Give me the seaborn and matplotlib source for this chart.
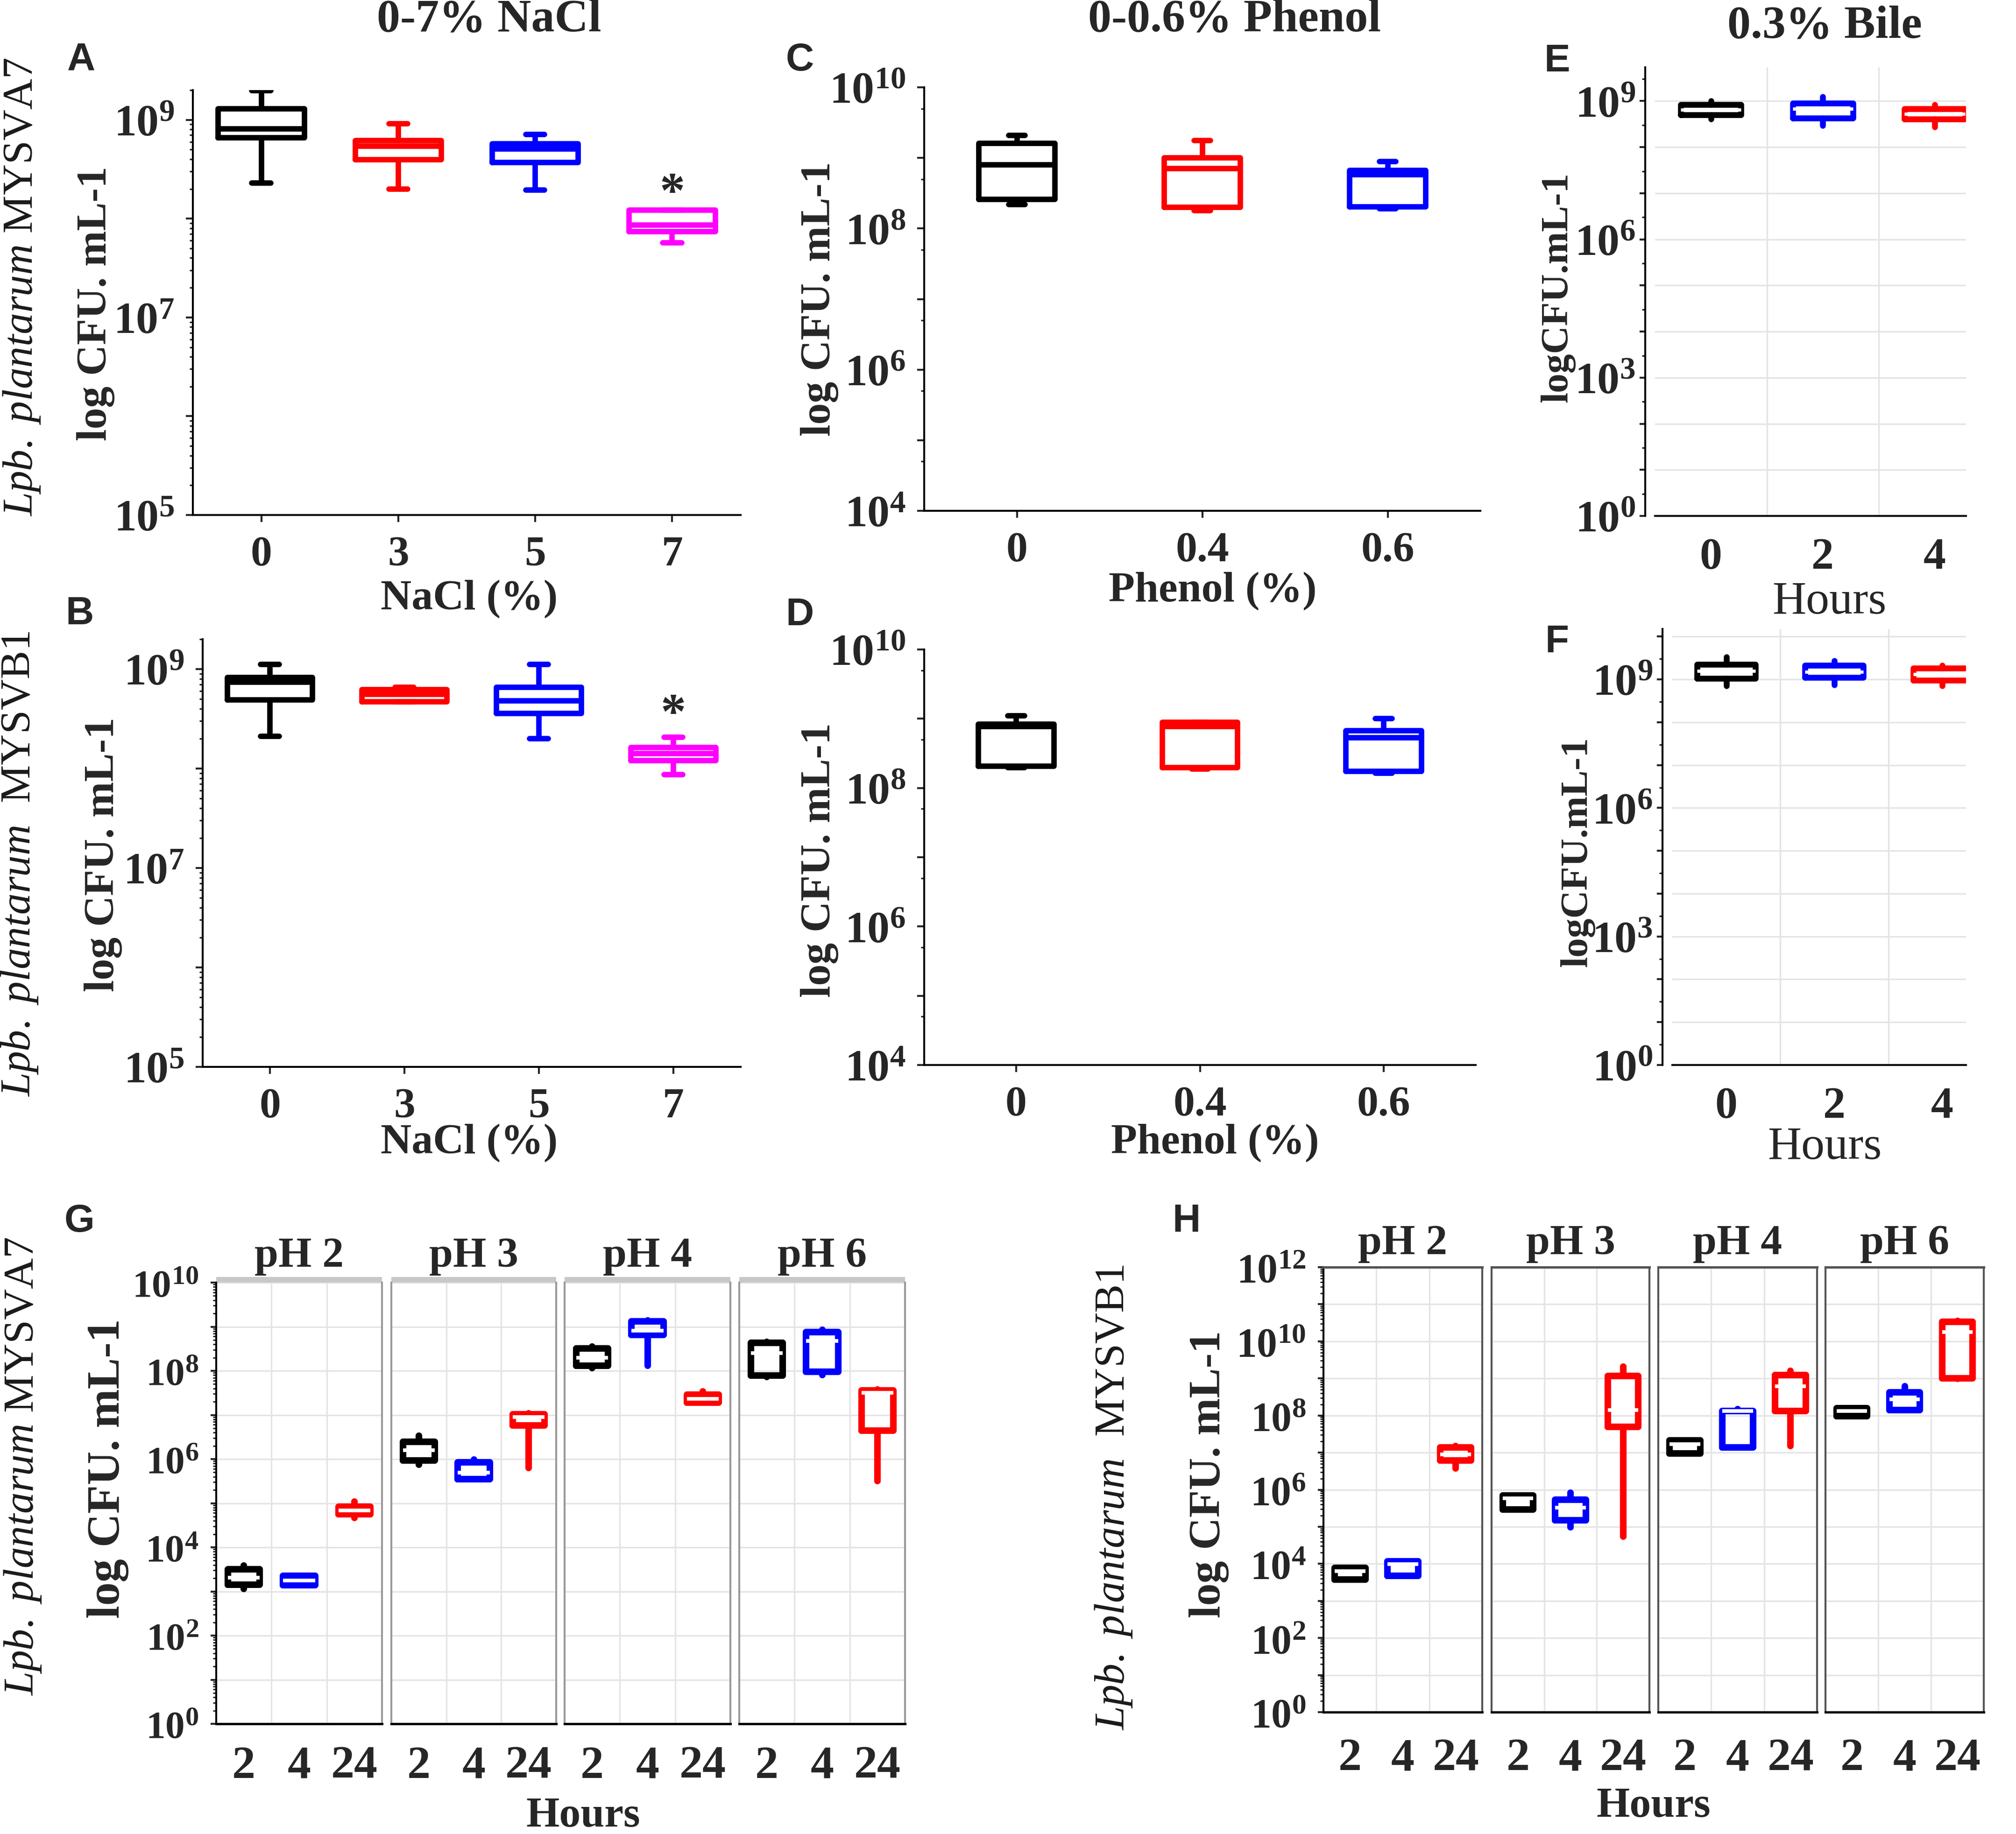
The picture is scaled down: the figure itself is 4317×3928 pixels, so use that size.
import matplotlib
matplotlib.use("Agg")
import matplotlib.pyplot as plt
from matplotlib.patches import Rectangle
from matplotlib.ticker import FixedLocator, FuncFormatter, NullFormatter
import numpy as np
import pandas as pd
import seaborn as sns

# box summaries: [min, Q1, median, Q3, max] in CFU/mL
nacl_levels = ["0", "3", "5", "7"]
nacl_colors = ["black", "red", "blue", "magenta"]
nacl_va7 = [
    [2.3e8, 6.6e8, 8.1e8, 1.3e9, 1.98e9],
    [2.0e8, 3.95e8, 5.4e8, 6.2e8, 9.1e8],
    [1.95e8, 3.7e8, 5.1e8, 5.75e8, 7.1e8],
    [5.7e7, 7.4e7, 8.65e7, 1.22e8, 1.22e8],
]
nacl_vb1 = [
    [2.1e8, 4.9e8, 7.4e8, 8.2e8, 1.12e9],
    [4.7e8, 4.7e8, 5.6e8, 6.2e8, 6.6e8],
    [2.0e8, 3.6e8, 4.8e8, 6.6e8, 1.12e9],
    [8.7e7, 1.2e8, 1.41e8, 1.63e8, 2.07e8],
]
nacl_star = [1.75e8, 3.4e8]  # height of the * over 7% NaCl (A, B)

phenol_levels = ["0", "0.4", "0.6"]
phenol_colors = ["black", "red", "blue"]
phenol_va7 = [
    [2.2e8, 2.57e8, 8.0e8, 1.61e9, 2.09e9],
    [1.78e8, 1.98e8, 7.05e8, 1.0e9, 1.76e9],
    [1.9e8, 2.03e8, 5.8e8, 6.6e8, 8.9e8],
]
phenol_vb1 = [
    [1.97e8, 2.07e8, 7.7e8, 8.4e8, 1.1e9],
    [1.88e8, 1.97e8, 7.7e8, 8.9e8, 8.9e8],
    [1.64e8, 1.75e8, 5.3e8, 6.7e8, 1.0e9],
]

bile_hours = ["0", "2", "4"]
bile_colors = ["black", "blue", "red"]
bile_va7 = [
    [4.05e8, 4.95e8, 6.4e8, 8.3e8, 1.0e9],
    [2.9e8, 4.3e8, 6.8e8, 9.0e8, 1.25e9],
    [2.7e8, 4.05e8, 5.3e8, 6.8e8, 8.3e8],
]
bile_vb1 = [
    [7.1e8, 1.06e9, 1.58e9, 2.22e9, 3.3e9],
    [7.4e8, 1.1e9, 1.49e9, 2.14e9, 2.7e9],
    [7.1e8, 9.4e8, 1.3e9, 1.82e9, 2.1e9],
]

ph_levels = ["pH 2", "pH 3", "pH 4", "pH 6"]
ph_hours = ["2", "4", "24"]
ph_colors = ["black", "blue", "red"]
ph2_va7 = [[1.15e3, 1.42e3, 2.05e3, 3.15e3, 3.9e3],
           [1.39e3, 1.39e3, 1.76e3, 2.28e3, 2.28e3],
           [4.6e4, 5.7e4, 6.8e4, 8.4e4, 1.09e5]]
ph3_va7 = [[7.5e5, 9.3e5, 1.58e6, 2.45e6, 3.39e6],
           [3.55e5, 3.55e5, 4.9e5, 8.4e5, 9.8e5],
           [6.3e5, 5.8e6, 8.9e6, 1.03e7, 1.1e7]]
ph4_va7 = [[1.17e8, 1.3e8, 2.0e8, 3.2e8, 3.58e8],
           [1.3e8, 6.5e8, 8.1e8, 1.33e9, 1.38e9],
           [1.89e7, 1.89e7, 2.34e7, 2.9e7, 3.44e7]]
ph6_va7 = [[7.2e7, 7.9e7, 2.5e8, 4.3e8, 4.5e8],
           [8.1e7, 9.5e7, 4.7e8, 7.6e8, 8.5e8],
           [3.2e5, 4.4e6, 3.2e7, 3.6e7, 3.76e7]]
ph2_vb1 = [[3.75e3, 3.75e3, 6.3e3, 7.7e3, 7.7e3],
           [4.8e3, 4.8e3, 9.9e3, 1.18e4, 1.18e4],
           [3.7e6, 6.2e6, 9.0e6, 1.39e7, 1.5e7]]
ph3_vb1 = [[2.9e5, 2.9e5, 5.9e5, 7.0e5, 7.0e5],
           [9.8e4, 1.5e5, 3.27e5, 5.4e5, 8.4e5],
           [5.5e4, 5.0e7, 1.42e8, 1.15e9, 2.07e9]]
ph4_vb1 = [[9.5e6, 9.5e6, 1.7e7, 2.1e7, 2.1e7],
           [1.39e7, 1.39e7, 1.32e8, 1.32e8, 1.5e8],
           [1.5e7, 1.32e8, 6.1e8, 1.24e9, 1.6e9]]
ph6_vb1 = [[9.5e7, 9.5e7, 1.32e8, 1.57e8, 1.57e8],
           [1.42e8, 1.42e8, 2.7e8, 4.2e8, 6.1e8],
           [9.8e8, 1.02e9, 1.77e10, 3.4e10, 3.6e10]]

W, H, DPI = 4317, 3929, 300

sns.set_theme(style="ticks")
plt.rcParams["font.family"] = ["Liberation Serif", "DejaVu Serif"]
plt.rcParams["mathtext.fontset"] = "custom"
plt.rcParams["mathtext.rm"] = "Liberation Serif"
plt.rcParams["mathtext.it"] = "Liberation Serif:italic"
plt.rcParams["mathtext.bf"] = "Liberation Serif:bold"

fig = plt.figure(figsize=(W / DPI, H / DPI), dpi=DPI, facecolor="white")


def px_axes(l, t, r, b):
    return fig.add_axes([l / W, 1 - b / H, (r - l) / W, (b - t) / H])


def ftext(x, y, s, **kw):
    fig.text(x / W, 1 - y / H, s, ha="center", va="center", **kw)


def pow_formatter(show):
    def fmt(v, pos):
        e = int(round(np.log10(v)))
        return r"$\mathbf{10^{%d}}$" % e if e in show else ""
    return FuncFormatter(fmt)


def draw_boxes(ax, groups, colors, stats, lw, width, capw, white_median=False):
    df = pd.DataFrame({"group": np.repeat(groups, 5), "cfu": np.concatenate(stats)})
    extra = {}
    if white_median:
        extra["medianprops"] = {"color": "white", "linewidth": lw * 0.55}
        extra["whiskerprops"] = {"solid_capstyle": "round"}
        extra["boxprops"] = {"solid_joinstyle": "round"}
    sns.boxplot(data=df, x="group", y="cfu", hue="group", order=groups,
                hue_order=groups, palette=dict(zip(groups, colors)), fill=False,
                whis=(0, 100), width=width, linewidth=lw, log_scale=True,
                legend=False, capwidths=capw, ax=ax, **extra)
    ax.set_xlabel("")
    ax.set_ylabel("")


def log_axis(ax, ylim, show, subs):
    ax.set_ylim(*ylim)
    lo = int(np.floor(np.log10(ylim[0])))
    hi = int(np.ceil(np.log10(ylim[1])))
    ax.yaxis.set_major_locator(FixedLocator([10.0 ** e for e in range(lo, hi + 1)]))
    ax.yaxis.set_major_formatter(pow_formatter(show))
    ax.yaxis.set_minor_locator(FixedLocator([s * 10.0 ** e for e in range(lo, hi) for s in subs]))
    ax.yaxis.set_minor_formatter(NullFormatter())


def origin_panel(box, groups, colors, stats, ylim, show, subs, width):
    ax = px_axes(*box)
    draw_boxes(ax, groups, colors, stats, lw=2.8, width=width, capw=width * 0.22)
    ax.set_xlim(-0.5, len(groups) - 0.5)
    log_axis(ax, ylim, show, subs)
    ax.set_xticks(range(len(groups)))
    ax.set_xticklabels(groups, fontsize=22, fontweight="bold")
    ax.tick_params(axis="y", which="major", length=3.5, width=1.0, pad=6, labelsize=23)
    ax.tick_params(axis="y", which="minor", length=1.8, width=0.8)
    ax.tick_params(axis="x", length=3.5, width=1.0, pad=7)
    for s in ["top", "right"]:
        ax.spines[s].set_visible(False)
    for s in ["left", "bottom"]:
        ax.spines[s].set_linewidth(1.0)
        ax.spines[s].set_color("black")
    return ax


def bile_panel(box, stats, ylim, xmax):
    ax = px_axes(*box)
    draw_boxes(ax, bile_hours, bile_colors, stats, lw=3.0, width=0.54, capw=0,
               white_median=True)
    ax.set_xlim(-0.5, xmax)
    log_axis(ax, ylim, {0, 3, 6, 9}, [3])
    ax.grid(True, axis="y", which="major", color="#e4e4e4", lw=0.8)
    for xg in [0.5, 1.5]:
        ax.axvline(xg, color="#e4e4e4", lw=0.8, zorder=0)
    ax.set_axisbelow(True)
    ax.set_xticks(range(3))
    ax.set_xticklabels(bile_hours, fontsize=23, fontweight="bold")
    ax.tick_params(axis="y", which="major", length=3.0, width=1.0, pad=2, labelsize=23)
    ax.tick_params(axis="y", which="minor", length=1.8, width=0.8)
    ax.tick_params(axis="x", length=0, pad=11)
    for s in ["top", "right"]:
        ax.spines[s].set_visible(False)
    ax.spines["left"].set_position(("outward", 5))
    for s in ["left", "bottom"]:
        ax.spines[s].set_linewidth(1.0)
        ax.spines[s].set_color("black")
    return ax


def ph_panel(boxes, stats_list, ylim, show, strip, label_fs, pad):
    for i, (box, title, stats) in enumerate(zip(boxes, ph_levels, stats_list)):
        ax = px_axes(*box)
        draw_boxes(ax, ph_hours, ph_colors, stats, lw=3.4, width=0.58, capw=0,
                   white_median=True)
        ax.set_xlim(-0.5, 2.5)
        log_axis(ax, ylim, show, range(2, 10))
        ax.grid(True, axis="y", which="major", color="#e4e4e4", lw=0.8)
        for xg in [0.5, 1.5]:
            ax.axvline(xg, color="#e4e4e4", lw=0.8, zorder=0)
        ax.set_axisbelow(True)
        ax.set_xticks(range(3))
        ax.set_xticklabels(ph_hours, fontsize=24, fontweight="bold")
        ax.tick_params(axis="x", length=0, pad=pad)
        if i == 0:
            ax.tick_params(axis="y", which="major", length=3.0, width=1.0, pad=6,
                           labelsize=label_fs)
            ax.tick_params(axis="y", which="minor", length=1.6, width=0.7)
        else:
            ax.tick_params(axis="y", which="both", length=0, labelleft=False)
        ax.spines["bottom"].set_color("black")
        ax.spines["bottom"].set_linewidth(1.2)
        if strip:
            edge = "#9a9a9a"
            ax.spines["top"].set_visible(False)
            ax.add_patch(Rectangle((0, 1), 1, 0.013, transform=ax.transAxes,
                                   clip_on=False, color="#c8c8c8", lw=0))
            ty = 1.060
        else:
            edge = "#555555"
            ax.spines["top"].set_color(edge)
            ty = 1.054
        for s in ["left", "right"]:
            ax.spines[s].set_color(edge)
            ax.spines[s].set_linewidth(1.0)
        if i == 0:
            ax.spines["left"].set_color("black")
        ax.text(0.5, ty, title, transform=ax.transAxes, ha="center", va="center",
                fontsize=22, fontweight="bold")


# A, B: NaCl
ax_a = origin_panel((413, 194, 1586, 1104), nacl_levels, nacl_colors, nacl_va7,
                    (1e5, 2.0e9), {5, 7, 9}, range(2, 10), 0.63)
ax_b = origin_panel((434, 1370, 1586, 2286), nacl_levels, nacl_colors, nacl_vb1,
                    (1e5, 2.0e9), {5, 7, 9}, range(2, 10), 0.63)
for ax, ys in zip([ax_a, ax_b], nacl_star):
    ax.text(3, ys, "*", ha="center", va="center", fontsize=26, fontweight="bold")

# C, D: phenol
origin_panel((1979, 188, 3170, 1095), phenol_levels, phenol_colors, phenol_va7,
             (1e4, 1e10), {4, 6, 8, 10}, [5], 0.41)
origin_panel((1979, 1392, 3160, 2282), phenol_levels, phenol_colors, phenol_vb1,
             (1e4, 1e10), {4, 6, 8, 10}, [5], 0.41)

# E, F: bile
bile_panel((3544, 145, 4210, 1106), bile_va7, (1, 5.4e9), 2.28)
bile_panel((3581, 1348, 4210, 2282), bile_vb1, (1, 1.5e10), 2.22)

# G, H: pH facets
ph_panel([(463, 2748, 818, 3693), (838, 2748, 1191, 3693),
          (1209, 2748, 1564, 3693), (1583, 2748, 1938, 3693)],
         [ph2_va7, ph3_va7, ph4_va7, ph6_va7], (1, 1e10), {0, 2, 4, 6, 8, 10},
         True, 20, 11)
ph_panel([(2834, 2715, 3174, 3668), (3194, 2715, 3532, 3668),
          (3551, 2715, 3891, 3668), (3909, 2715, 4248, 3668)],
         [ph2_vb1, ph3_vb1, ph4_vb1, ph6_vb1], (1, 1e12), {0, 2, 4, 6, 8, 10, 12},
         False, 21, 13)

# column titles
for s, x, y in [("0-7% NaCl", 1047, 42), ("0-0.6% Phenol", 2644, 42), ("0.3% Bile", 3907, 56)]:
    ftext(x, y, s, fontsize=24, fontweight="bold")

# panel letters
for s, x, y in [("A", 174, 129), ("B", 170, 1315), ("C", 1713, 129), ("D", 1713, 1317),
                ("E", 3334, 131), ("F", 3334, 1375), ("G", 170, 2616), ("H", 2540, 2616)]:
    ftext(x, y, s, fontsize=20, fontweight="bold", family="Liberation Sans")

# strain labels
va7 = r"$\mathit{Lpb.\ plantarum}$ MYSVA7"
vb1 = r"$\mathit{Lpb.\ plantarum}$  MYSVB1"
for s, x, y in [(va7, 47, 615), (vb1, 42, 1850), (va7, 49, 3141), (vb1, 2384, 3207)]:
    ftext(x, y, s, fontsize=22, rotation=90, color="#1a1a1a")

# y axis titles
for x, y, fs in [(205, 650, 22), (221, 1830, 22), (1755, 640, 22), (1755, 1842, 22),
                 (231, 3145, 24), (2589, 3157, 23)]:
    ftext(x, y, "log CFU. mL-1", fontsize=fs, fontweight="bold", rotation=90)
ftext(3336, 615, "logCFU.mL-1", fontsize=20, fontweight="bold", rotation=90)
ftext(3378, 1824, "logCFU.mL-1", fontsize=20, fontweight="bold", rotation=90)

# x axis titles
for s, x, y, w in [("NaCl (%)", 1005, 1283, "bold"), ("NaCl (%)", 1005, 2448, "bold"),
                   ("Phenol (%)", 2597, 1266, "bold"), ("Phenol (%)", 2602, 2448, "bold"),
                   ("Hours", 3917, 1290, "normal"), ("Hours", 3907, 2458, "normal"),
                   ("Hours", 1249, 3890, "bold"), ("Hours", 3541, 3869, "bold")]:
    ftext(x, y, s, fontsize=22 if w == "bold" else 24, fontweight=w)

fig.savefig("out.png", dpi=DPI, facecolor="white")
